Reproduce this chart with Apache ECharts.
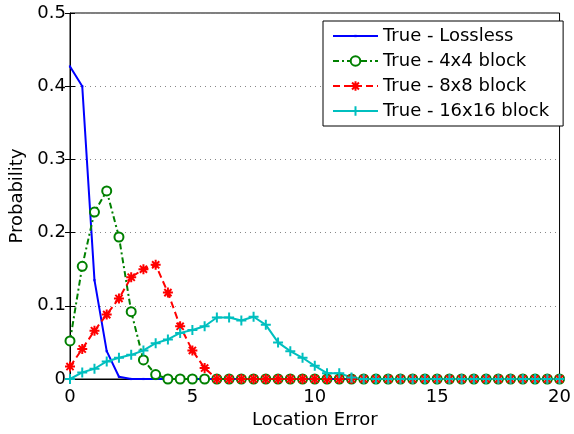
<!DOCTYPE html>
<html>
<head>
<meta charset="utf-8">
<script src="https://cdn.jsdelivr.net/npm/echarts@6/dist/echarts.min.js"></script>
<style>
html,body{margin:0;padding:0;background:#fff;}
#chart{width:574px;height:434px;}
</style>
</head>
<body>
<div id="chart"></div>
<script>
// Location error values, sampled every 0.5 from 0 to 20
const locationError = [];
for (let i = 0; i <= 40; i++) locationError.push(i * 0.5);

const seriesNames = ['True - Lossless', 'True - 4x4 block', 'True - 8x8 block', 'True - 16x16 block'];

const lossless = [0.427, 0.400, 0.135, 0.038, 0.003, 0, 0, 0, 0, 0, 0, 0, 0, 0, 0, 0, 0, 0, 0, 0, 0,
  0, 0, 0, 0, 0, 0, 0, 0, 0, 0, 0, 0, 0, 0, 0, 0, 0, 0, 0, 0];
const block4 = [0.052, 0.154, 0.228, 0.257, 0.194, 0.092, 0.026, 0.006, 0, 0, 0, 0, 0, 0, 0, 0, 0, 0, 0, 0, 0,
  0, 0, 0, 0, 0, 0, 0, 0, 0, 0, 0, 0, 0, 0, 0, 0, 0, 0, 0, 0];
const block8 = [0.017, 0.041, 0.066, 0.088, 0.110, 0.139, 0.150, 0.156, 0.118, 0.072, 0.039, 0.015, 0, 0, 0, 0, 0, 0, 0, 0, 0,
  0, 0, 0, 0, 0, 0, 0, 0, 0, 0, 0, 0, 0, 0, 0, 0, 0, 0, 0, 0];
const block16 = [0, 0.009, 0.014, 0.024, 0.029, 0.033, 0.039, 0.049, 0.054, 0.063, 0.067, 0.072, 0.084, 0.084, 0.080, 0.085,
  0.074, 0.050, 0.038, 0.029, 0.018, 0.008, 0.008, 0.002, 0, 0, 0, 0, 0, 0, 0, 0, 0, 0, 0, 0, 0, 0, 0, 0, 0];

const xTicks = [0, 5, 10, 15, 20];
const yTicks = [0, 0.1, 0.2, 0.3, 0.4, 0.5];

const pairs = vals => vals.map((v, i) => [locationError[i], v]);

const FONT = 'DejaVu Sans';
const FS = 18;
const asterisk = 'path://M0,-5L0,5M-5,0L5,0M-3.6,-3.6L3.6,3.6M-3.6,3.6L3.6,-3.6';
const plus = 'path://M0,-5L0,5M-5,0L5,0';
// point marker: a small square inside a wider empty frame, so it stays tiny at any symbol size
const smallDot = 'path://M-5,-5L-5,-5M5,5L5,5M-1.2,-1.2h2.4v2.4h-2.4z';

const chart = echarts.init(document.getElementById('chart'));
chart.setOption({
  animation: false,
  backgroundColor: '#fff',
  grid: { left: 70, right: 11, top: 13, bottom: 51, show: true, borderColor: '#000', borderWidth: 1 },
  legend: {
    orient: 'vertical', left: 323, top: 21, width: 239,
    backgroundColor: '#fff', borderColor: '#000', borderWidth: 1,
    padding: [6, 14, 6, 9], itemGap: 7, itemWidth: 45, itemHeight: 12,
    textStyle: { fontFamily: FONT, fontSize: FS, color: '#000' },
    data: seriesNames
  },
  xAxis: [{
    type: 'value', min: xTicks[0], max: xTicks[xTicks.length - 1], interval: 5,
    name: 'Location Error', nameLocation: 'middle', nameGap: 32,
    nameTextStyle: { fontFamily: FONT, fontSize: FS, color: '#000' },
    axisLine: { lineStyle: { color: '#000' } },
    axisTick: { inside: true, length: 5, lineStyle: { color: '#000' } },
    axisLabel: { fontFamily: FONT, fontSize: FS, color: '#000', margin: 9 },
    splitLine: { show: false }
  }, {
    type: 'value', position: 'top', min: 0, max: 20, interval: 5,
    axisLine: { show: false }, axisLabel: { show: false },
    axisTick: { inside: true, length: 5, lineStyle: { color: '#000' } },
    splitLine: { show: false }
  }],
  yAxis: [{
    type: 'value', min: yTicks[0], max: yTicks[yTicks.length - 1], interval: 0.1,
    name: 'Probability', nameLocation: 'middle', nameGap: 42,
    nameTextStyle: { fontFamily: FONT, fontSize: FS, color: '#000' },
    axisLine: { show: true, lineStyle: { color: '#000' } },
    axisTick: { show: true, inside: true, length: 5, lineStyle: { color: '#000' } },
    axisLabel: { fontFamily: FONT, fontSize: FS, color: '#000', margin: 4,
      formatter: v => (Math.round(v * 10) / 10).toString() },
    splitLine: { show: true, lineStyle: { color: '#888', type: [1, 4], width: 1 } }
  }, {
    type: 'value', position: 'right', min: 0, max: 0.5, interval: 0.1,
    axisLine: { show: false }, axisLabel: { show: false },
    axisTick: { show: true, inside: true, length: 5, lineStyle: { color: '#000' } },
    splitLine: { show: false }
  }],
  series: [{
    name: seriesNames[0], type: 'line', data: pairs(lossless),
    symbol: smallDot, symbolSize: 9, showAllSymbol: true,
    lineStyle: { color: '#0000ff', width: 2 },
    itemStyle: { color: '#0000ff' }
  }, {
    name: seriesNames[1], type: 'line', data: pairs(block4),
    symbol: 'emptyCircle', symbolSize: 9, showAllSymbol: true,
    lineStyle: { color: '#008000', width: 2, type: [6, 3, 2, 3] },
    itemStyle: { color: '#008000', borderColor: '#008000', borderWidth: 1.8 }
  }, {
    name: seriesNames[2], type: 'line', data: pairs(block8),
    symbol: asterisk, symbolSize: 10, showAllSymbol: true,
    lineStyle: { color: '#ff0000', width: 2, type: [7, 4] },
    itemStyle: { color: '#ff0000', borderColor: '#ff0000', borderWidth: 2 }
  }, {
    name: seriesNames[3], type: 'line', data: pairs(block16),
    symbol: plus, symbolSize: 10, showAllSymbol: true,
    lineStyle: { color: '#00bfbf', width: 2 },
    itemStyle: { color: '#00bfbf', borderColor: '#00bfbf', borderWidth: 2 }
  }]
});
</script>
</body>
</html>
